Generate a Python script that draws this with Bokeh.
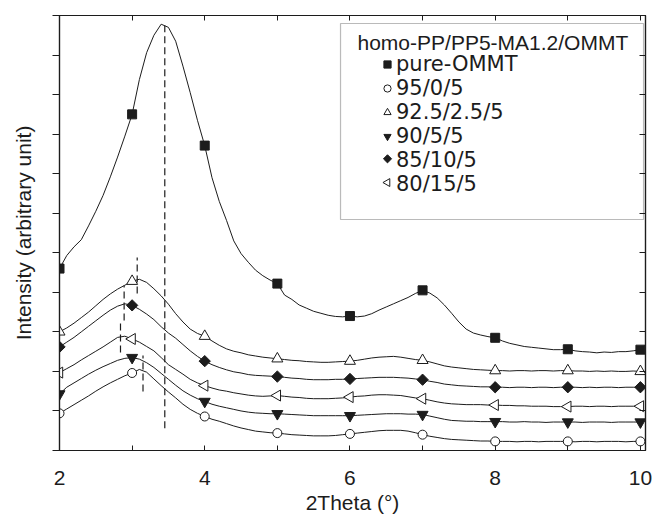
import math
from bokeh.plotting import figure
from bokeh.models import (Range1d, LinearAxis, FixedTicker, Legend, LegendItem,
                          Label, BoxAnnotation)
from bokeh.embed import file_html
from bokeh.resources import INLINE

# ---------------- data ----------------
two_theta = [round(2.0 + 0.1 * i, 1) for i in range(81)]

pure_ommt = [
    4.60, 4.93, 5.15, 5.33, 5.68, 6.05, 6.45, 6.92, 7.42, 7.95,
    8.50, 9.38, 10.06, 10.50, 10.78, 10.70, 10.35, 9.72, 9.05, 8.35,
    7.71, 6.90, 6.30, 5.82, 5.30, 4.98, 4.76, 4.56, 4.42, 4.31,
    4.22, 3.93, 3.82, 3.68, 3.60, 3.52, 3.47, 3.42, 3.39, 3.38,
    3.40, 3.38, 3.40, 3.46, 3.55, 3.63, 3.71, 3.79, 3.87, 3.97,
    4.05, 3.98, 3.86, 3.68, 3.47, 3.25, 3.07, 2.97, 2.92, 2.88,
    2.85, 2.77, 2.71, 2.67, 2.63, 2.61, 2.59, 2.57, 2.55, 2.55,
    2.56, 2.52, 2.50, 2.49, 2.47, 2.49, 2.48, 2.50, 2.50, 2.52,
    2.55]

s95_0_5 = [
    0.94, 1.05, 1.16, 1.27, 1.38, 1.50, 1.61, 1.71, 1.80, 1.89,
    1.96, 2.05, 1.98, 1.81, 1.64, 1.48, 1.33, 1.17, 1.04, 0.94,
    0.86, 0.79, 0.74, 0.68, 0.62, 0.57, 0.53, 0.49, 0.47, 0.45,
    0.44, 0.42, 0.40, 0.39, 0.38, 0.37, 0.37, 0.37, 0.38, 0.40,
    0.42, 0.44, 0.46, 0.48, 0.50, 0.51, 0.51, 0.51, 0.49, 0.45,
    0.40, 0.36, 0.33, 0.30, 0.28, 0.27, 0.26, 0.25, 0.24, 0.24,
    0.23, 0.23, 0.23, 0.22, 0.23, 0.23, 0.22, 0.23, 0.23, 0.23,
    0.23, 0.22, 0.23, 0.23, 0.22, 0.23, 0.23, 0.23, 0.22, 0.23,
    0.23]

s92_5_2_5_5 = [
    3.00, 3.10, 3.22, 3.36, 3.50, 3.66, 3.82, 3.96, 4.08, 4.18,
    4.28, 4.33, 4.25, 4.09, 3.91, 3.70, 3.46, 3.25, 3.07, 2.96,
    2.89, 2.77, 2.66, 2.57, 2.51, 2.47, 2.42, 2.39, 2.36, 2.34,
    2.32, 2.30, 2.28, 2.27, 2.25, 2.24, 2.23, 2.23, 2.24, 2.25,
    2.26, 2.28, 2.31, 2.34, 2.36, 2.37, 2.38, 2.36, 2.33, 2.30,
    2.28, 2.24, 2.19, 2.14, 2.11, 2.09, 2.07, 2.05, 2.04, 2.03,
    2.02, 2.02, 2.01, 2.02, 2.02, 2.01, 2.02, 2.02, 2.01, 2.02,
    2.02, 2.01, 2.01, 2.00, 2.01, 2.00, 2.01, 2.00, 2.00, 2.01,
    2.00]

s90_5_5 = [
    1.43, 1.60, 1.71, 1.82, 1.93, 2.03, 2.12, 2.20, 2.28, 2.33,
    2.35, 2.31, 2.22, 2.10, 1.95, 1.80, 1.65, 1.51, 1.40, 1.31,
    1.24, 1.17, 1.12, 1.08, 1.04, 1.00, 0.97, 0.95, 0.94, 0.93,
    0.93, 0.92, 0.91, 0.90, 0.89, 0.88, 0.88, 0.88, 0.88, 0.88,
    0.88, 0.89, 0.90, 0.91, 0.92, 0.93, 0.93, 0.93, 0.92, 0.92,
    0.91, 0.87, 0.83, 0.79, 0.76, 0.75, 0.74, 0.74, 0.73, 0.73,
    0.73, 0.73, 0.72, 0.72, 0.73, 0.72, 0.72, 0.71, 0.72, 0.72,
    0.72, 0.72, 0.71, 0.72, 0.72, 0.72, 0.71, 0.72, 0.72, 0.72,
    0.72]

s85_10_5 = [
    2.62, 2.74, 2.86, 3.00, 3.14, 3.28, 3.42, 3.55, 3.65, 3.71,
    3.67, 3.57, 3.45, 3.31, 3.13, 2.97, 2.84, 2.68, 2.52, 2.38,
    2.26, 2.17, 2.10, 2.04, 1.99, 1.96, 1.92, 1.90, 1.89, 1.88,
    1.87, 1.85, 1.83, 1.82, 1.80, 1.79, 1.79, 1.79, 1.80, 1.80,
    1.81, 1.82, 1.83, 1.84, 1.85, 1.85, 1.85, 1.84, 1.83, 1.81,
    1.79, 1.75, 1.72, 1.68, 1.66, 1.64, 1.63, 1.62, 1.61, 1.61,
    1.60, 1.60, 1.59, 1.60, 1.60, 1.59, 1.60, 1.60, 1.59, 1.60,
    1.60, 1.60, 1.59, 1.60, 1.59, 1.60, 1.60, 1.59, 1.60, 1.60,
    1.60]

s80_15_5 = [
    1.97, 2.07, 2.17, 2.29, 2.40, 2.51, 2.62, 2.74, 2.86, 2.89,
    2.82, 2.74, 2.63, 2.52, 2.35, 2.17, 2.05, 1.93, 1.80, 1.71,
    1.64, 1.58, 1.53, 1.50, 1.46, 1.43, 1.40, 1.38, 1.37, 1.38,
    1.39, 1.37, 1.35, 1.34, 1.32, 1.31, 1.31, 1.31, 1.32, 1.33,
    1.35, 1.37, 1.38, 1.40, 1.41, 1.41, 1.40, 1.39, 1.36, 1.33,
    1.31, 1.27, 1.23, 1.20, 1.18, 1.17, 1.16, 1.16, 1.16, 1.15,
    1.15, 1.14, 1.14, 1.13, 1.13, 1.12, 1.12, 1.12, 1.11, 1.11,
    1.11, 1.12, 1.12, 1.11, 1.12, 1.12, 1.11, 1.12, 1.12, 1.12,
    1.12]

series_names = ["pure-OMMT", "95/0/5", "92.5/2.5/5", "90/5/5", "85/10/5", "80/15/5"]
legend_title = "homo-PP/PP5-MA1.2/OMMT"

# peak-position guide lines (2theta, lower end, upper end)
peak_pos = [3.45, 3.07, 2.89, 2.84, 3.15]
peak_low = [0.56, 3.97, 3.29, 2.48, 1.49]
peak_high = [10.75, 4.88, 4.17, 3.29, 2.40]

x_major_ticks = [2, 4, 6, 8, 10]
x_minor_ticks = [3, 5, 7, 9]
y_ticks = list(range(0, 12))

# ---------------- styling ----------------
FONT = "Liberation Sans"
LEGEND_FONT = "DejaVu Sans"
INK = "#1c1c1c"

p = figure(width=654, height=519, output_backend="svg", toolbar_location=None,
           x_range=Range1d(2, 10.07), y_range=Range1d(0, 11),
           min_border_left=59, min_border_right=9, min_border_top=15,
           min_border_bottom=69)
p.background_fill_color = "white"
p.border_fill_color = "white"
p.outline_line_color = INK
p.outline_line_width = 1.2
p.grid.visible = False

xa = p.xaxis[0]
xa.ticker = FixedTicker(ticks=x_major_ticks, minor_ticks=x_minor_ticks)
xa.major_tick_in = 5
xa.major_tick_out = 0
xa.minor_tick_in = 5
xa.minor_tick_out = 0
xa.axis_line_color = INK
xa.axis_line_width = 1.2
xa.major_tick_line_color = INK
xa.minor_tick_line_color = INK
xa.major_label_text_font = FONT
xa.major_label_text_font_size = "21px"
xa.major_label_text_color = INK
xa.major_label_standoff = 20
xa.axis_label = "2Theta (°)"
xa.axis_label_text_font = FONT
xa.axis_label_text_font_size = "21px"
xa.axis_label_text_font_style = "normal"
xa.axis_label_text_color = INK
xa.axis_label_standoff = 3

ya = p.yaxis[0]
ya.ticker = FixedTicker(ticks=y_ticks)
ya.major_tick_in = 0
ya.major_tick_out = 7
ya.minor_tick_line_color = None
ya.axis_line_color = INK
ya.axis_line_width = 1.2
ya.major_tick_line_color = INK
ya.major_label_text_font_size = "1px"
ya.major_label_text_color = None
ya.major_label_standoff = 0
ya.axis_label = "Intensity (arbitrary unit)"
ya.axis_label_text_font = FONT
ya.axis_label_text_font_size = "21px"
ya.axis_label_text_font_style = "normal"
ya.axis_label_text_color = INK
ya.axis_label_standoff = 18

top = LinearAxis(ticker=FixedTicker(ticks=x_major_ticks, minor_ticks=x_minor_ticks),
                 major_tick_in=5, major_tick_out=0, minor_tick_in=5, minor_tick_out=0,
                 major_label_text_font_size="1px", major_label_text_color=None,
                 major_label_standoff=0,
                 axis_line_color=INK, axis_line_width=1.2,
                 major_tick_line_color=INK, minor_tick_line_color=INK)
p.add_layout(top, "above")

right = LinearAxis(ticker=FixedTicker(ticks=y_ticks),
                   major_tick_in=6, major_tick_out=0, minor_tick_line_color=None,
                   major_label_text_font_size="1px", major_label_text_color=None,
                   major_label_standoff=0,
                   axis_line_color=INK, axis_line_width=1.2, major_tick_line_color=INK)
p.add_layout(right, "right")

# legend frame
frame_box = BoxAnnotation(left=5.87, right=10.043, top=10.798, bottom=5.841,
                          fill_color="white", fill_alpha=1.0, line_color=INK,
                          line_width=1.2, level="underlay")
p.add_layout(frame_box)

# dashed peak lines
p.segment(x0=peak_pos, y0=peak_low, x1=peak_pos, y1=peak_high,
          line_color=INK, line_width=1.2, line_dash="7 4")

all_series = [pure_ommt, s95_0_5, s92_5_2_5_5, s90_5_5, s85_10_5, s80_15_5]
marker_styles = [
    dict(marker="square", size=9, fill_color=INK, angle=0, rotated=False),
    dict(marker="circle", size=9, fill_color="white", angle=0, rotated=False),
    dict(marker="triangle", size=11, fill_color="white", angle=0, rotated=False),
    dict(marker="inverted_triangle", size=11, fill_color=INK, angle=0, rotated=False),
    dict(marker="square", size=8, fill_color=INK, angle=math.pi / 4, rotated=True),
    dict(marker="triangle", size=11, fill_color="white", angle=math.pi / 2, rotated=True),
]

# legend keys that Bokeh would draw unrotated are drawn by hand at the legend rows
key_x = 6.517
key_y = {4: 7.376, 5: 6.776}

marker_x = two_theta[::10]
items = []
for k, (name, ys, st) in enumerate(zip(series_names, all_series, marker_styles)):
    p.line(two_theta, ys, line_color=INK, line_width=1)
    r = p.scatter(x=marker_x, y=ys[::10], marker=st["marker"], size=st["size"],
                  angle=st["angle"], fill_color=st["fill_color"], line_color=INK,
                  line_width=1)
    if st["rotated"]:
        proxy = p.scatter(x=[], y=[], marker="circle", size=1,
                          fill_alpha=0, line_alpha=0)
        p.scatter(x=[key_x], y=[key_y[k]], marker=st["marker"],
                  size=st["size"] * 0.72, angle=st["angle"],
                  fill_color=st["fill_color"], line_color=INK, line_width=1)
        items.append(LegendItem(label=name, renderers=[proxy]))
    else:
        items.append(LegendItem(label=name, renderers=[r]))

title = Label(x=6.104, y=10.317, text=legend_title,
              text_baseline="middle", text_font=FONT, text_font_size="21px",
              text_color=INK)
p.add_layout(title)

legend = Legend(items=items, location=(319, 254), orientation="vertical",
                border_line_color=None, background_fill_alpha=0,
                padding=0, margin=0, spacing=-2, glyph_width=18, glyph_height=22,
                label_standoff=0, label_text_font=LEGEND_FONT,
                label_text_font_size="21px", label_text_color=INK)
p.add_layout(legend)

open("out.html", "w").write(file_html(p, INLINE))
